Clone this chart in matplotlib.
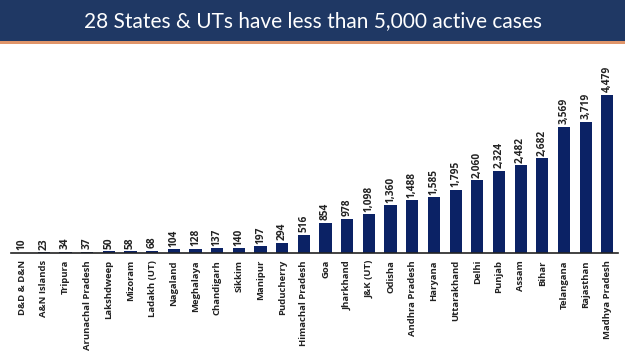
import matplotlib.pyplot as plt
from matplotlib.patches import Rectangle

states = ['D&D & D&N', 'A&N Islands', 'Tripura', 'Arunachal Pradesh', 'Lakshdweep',
          'Mizoram', 'Ladakh (UT)', 'Nagaland', 'Meghalaya', 'Chandigarh', 'Sikkim',
          'Manipur', 'Puducherry', 'Himachal Pradesh', 'Goa', 'Jharkhand', 'J&K (UT)',
          'Odisha', 'Andhra Pradesh', 'Haryana', 'Uttarakhand', 'Delhi', 'Punjab',
          'Assam', 'Bihar', 'Telangana', 'Rajasthan', 'Madhya Pradesh']
active = [10, 23, 34, 37, 50, 58, 68, 104, 128, 137, 140, 197, 294, 516, 854, 978,
          1098, 1360, 1488, 1585, 1795, 2060, 2324, 2482, 2682, 3569, 3719, 4479]
title = '28 States & UTs have less than 5,000 active cases'

plt.rcParams['font.family'] = ['Liberation Sans Narrow', 'Open Sans', 'DejaVu Sans']

fig = plt.figure(figsize=(6.25, 3.51), dpi=100)
fig.patch.set_facecolor('white')

# title banner
fig.patches.append(Rectangle((0, 0.882), 1, 0.118, transform=fig.transFigure,
                             facecolor='#1f3864', edgecolor='none'))
fig.patches.append(Rectangle((0, 0.876), 1, 0.006, transform=fig.transFigure,
                             facecolor='#e0956a', edgecolor='none'))
fig.text(0.5, 0.94, title, color='white', fontsize=15, ha='center', va='center',
         family=['Lato', 'DejaVu Sans'])

ax = fig.add_axes([0.018, 0.279, 0.971, 0.58])
x = range(len(states))
ax.bar(x, active, width=0.56, color='#0b2265')
for i, v in zip(x, active):
    ax.text(i, v + 70, f'{v:,}', rotation=90, ha='center', va='bottom',
            fontsize=7.3, fontweight='bold', color='#222222')

ax.set_xlim(-0.5, len(states) - 0.5)
ax.set_ylim(0, 5760)
ax.set_xticks(list(x))
ax.set_xticklabels(states, rotation=90, fontsize=6.8, fontweight='bold', color='#222222')
ax.tick_params(axis='x', length=0, pad=5)
ax.set_yticks([])
for s in ['top', 'right', 'left']:
    ax.spines[s].set_visible(False)
ax.spines['bottom'].set_color('#222222')
ax.spines['bottom'].set_linewidth(1.2)

fig.savefig('out.png', dpi=100)
